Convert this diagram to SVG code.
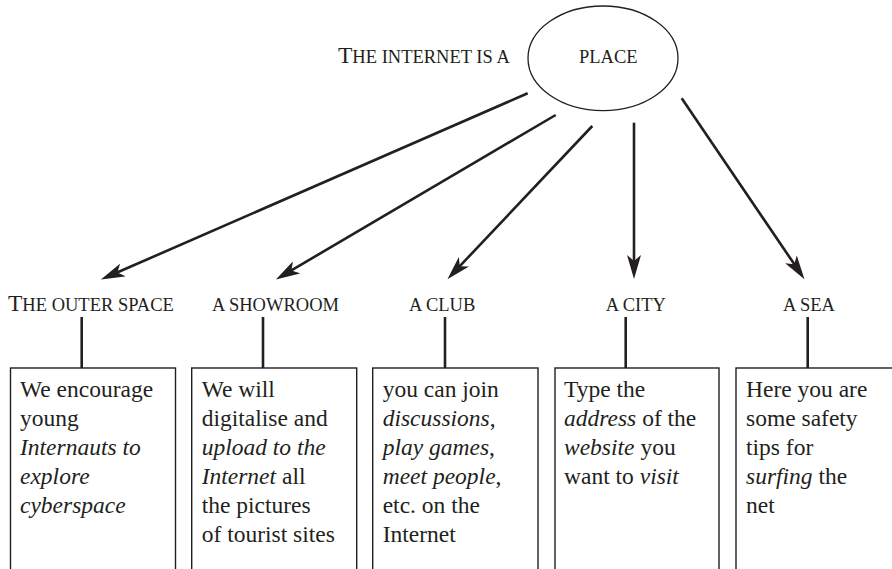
<svg xmlns="http://www.w3.org/2000/svg" width="892" height="569" viewBox="0 0 892 569">
<style>
text{font-family:"Liberation Serif","Times New Roman",serif;fill:#231f20}
.b{font-size:23.5px}
.sc{font-size:18.5px}
.cap{font-size:23.5px}
.i{font-style:italic}
.box{fill:#fff;stroke:#231f20;stroke-width:1.4}
.stub{stroke:#231f20;stroke-width:2.6}
.arr{stroke:#231f20;stroke-width:2.6;fill:none;marker-end:url(#ah)}
</style>
<defs>
<marker id="ah" viewBox="0 0 24 14" refX="7" refY="7" markerWidth="24" markerHeight="14" markerUnits="userSpaceOnUse" orient="auto">
<path d="M0,0 L24,7 L0,14 L6,7 Z" fill="#231f20"/>
</marker>
</defs>
<rect width="892" height="569" fill="#fff"/>

<g id="root">
<text x="338" y="63"><tspan class="cap">T</tspan><tspan class="sc">HE INTERNET IS A</tspan></text>
<ellipse cx="603" cy="58.3" rx="75" ry="52.3" fill="none" stroke="#231f20" stroke-width="1.3"/>
<text x="579" y="63" class="sc">PLACE</text>
</g>

<g id="connectors">
<path class="arr" d="M527.7,93.3 L116.5,272.8"/>
<path class="arr" d="M555.7,115 L290.5,270.9"/>
<path class="arr" d="M592.3,126 L459.1,266.9"/>
<path class="arr" d="M634,122.7 L634,262"/>
<path class="arr" d="M681.7,98.3 L794.9,265.1"/>
<line class="stub" x1="81.7" y1="317" x2="81.7" y2="368"/>
<line class="stub" x1="263" y1="317" x2="263" y2="368"/>
<line class="stub" x1="445" y1="317" x2="445" y2="368"/>
<line class="stub" x1="625.7" y1="317" x2="625.7" y2="368"/>
<line class="stub" x1="807.7" y1="317" x2="807.7" y2="368"/>
</g>

<g id="outer-space">
<text x="8" y="311"><tspan class="cap">T</tspan><tspan class="sc">HE OUTER SPACE</tspan></text>
<rect class="box" x="10.5" y="368" width="165" height="220"/>
<text class="b" x="20" y="397">We encourage</text>
<text class="b" x="20" y="426">young</text>
<text class="b i" x="20" y="455">Internauts to</text>
<text class="b i" x="20" y="484">explore</text>
<text class="b i" x="20" y="513">cyberspace</text>
</g>

<g id="showroom">
<text x="212" y="311" class="sc">A SHOWROOM</text>
<rect class="box" x="191.7" y="368" width="165" height="220"/>
<text class="b" x="201.7" y="397">We will</text>
<text class="b" x="201.7" y="426">digitalise and</text>
<text class="b i" x="201.7" y="455">upload to the</text>
<text class="b" x="201.7" y="484"><tspan class="i">Internet</tspan> all</text>
<text class="b" x="201.7" y="513">the pictures</text>
<text class="b" x="201.7" y="542">of tourist sites</text>
</g>

<g id="club">
<text x="409" y="311" class="sc">A CLUB</text>
<rect class="box" x="372.7" y="368" width="165.3" height="220"/>
<text class="b" x="382.7" y="397">you can join</text>
<text class="b" x="382.7" y="426"><tspan class="i">discussions</tspan>,</text>
<text class="b" x="382.7" y="455"><tspan class="i">play games</tspan>,</text>
<text class="b" x="382.7" y="484"><tspan class="i">meet people</tspan>,</text>
<text class="b" x="382.7" y="513">etc. on the</text>
<text class="b" x="382.7" y="542">Internet</text>
</g>

<g id="city">
<text x="605.7" y="311" class="sc">A CITY</text>
<rect class="box" x="555" y="368" width="164" height="220"/>
<text class="b" x="564" y="397">Type the</text>
<text class="b" x="564" y="426"><tspan class="i">address</tspan> of the</text>
<text class="b" x="564" y="455"><tspan class="i">website</tspan> you</text>
<text class="b" x="564" y="484">want to <tspan class="i">visit</tspan></text>
</g>

<g id="sea">
<text x="783" y="311" class="sc">A SEA</text>
<rect class="box" x="736" y="368" width="170" height="220"/>
<text class="b" x="746" y="397">Here you are</text>
<text class="b" x="746" y="426">some safety</text>
<text class="b" x="746" y="455">tips for</text>
<text class="b" x="746" y="484"><tspan class="i">surfing</tspan> the</text>
<text class="b" x="746" y="513">net</text>
</g>
</svg>
